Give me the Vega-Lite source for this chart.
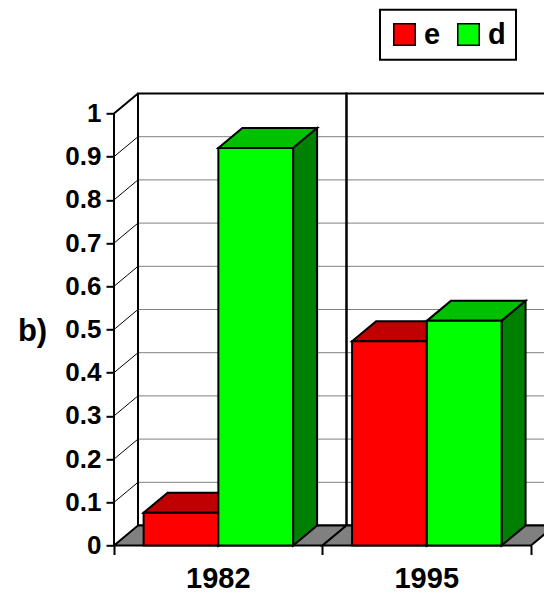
{
  "$schema": "https://vega.github.io/schema/vega-lite/v6.json",
  "width": 430,
  "height": 486,
  "autosize": "none",
  "padding": {"left": 114, "top": 70.3, "right": 0, "bottom": 37.7},
  "background": "white",
  "config": {"view": {"stroke": null}, "font": "Liberation Sans"},
  "datasets": {
    "bars": [
      {"year": "1982", "series": "e", "value": 0.076},
      {"year": "1982", "series": "d", "value": 0.92},
      {"year": "1995", "series": "e", "value": 0.473},
      {"year": "1995", "series": "d", "value": 0.52}
    ],
    "levels": [
      {"v": 0.1}, {"v": 0.2}, {"v": 0.3}, {"v": 0.4}, {"v": 0.5},
      {"v": 0.6}, {"v": 0.7}, {"v": 0.8}, {"v": 0.9}, {"v": 1}
    ]
  },
  "data": {"name": "bars"},
  "transform": [
    {"window": [{"op": "dense_rank", "as": "yi"}], "sort": [{"field": "year"}]},
    {"window": [{"op": "dense_rank", "as": "si"}], "groupby": ["year"], "sort": [{"field": "series", "order": "descending"}]},
    {"calculate": "datum.yi - 1 + 0.142 + (datum.si - 1) * 0.3585", "as": "x0"},
    {"calculate": "datum.x0 + 0.3585", "as": "x1"}
  ],
  "resolve": {"scale": {"fill": "independent"}},
  "layer": [
    {
      "data": {"name": "levels"},
      "transform": [{"calculate": "datum.v + 0.0463", "as": "vb"}],
      "mark": {"type": "rule", "color": "#808080", "strokeWidth": 1, "clip": true},
      "encoding": {
        "x": {"datum": 0.1151, "type": "quantitative", "scale": {"domain": [0, 2.0624], "nice": false, "zero": false}},
        "x2": {"datum": 2.3},
        "y": {"field": "vb", "type": "quantitative", "scale": {"domain": [-0.025, 1.1], "nice": false, "zero": false}}
      }
    },
    {
      "data": {"name": "levels"},
      "transform": [{"calculate": "datum.v + 0.0463", "as": "vb"}],
      "mark": {"type": "rule", "color": "black"},
      "encoding": {
        "x": {"datum": 0, "type": "quantitative", "scale": {"domain": [0, 2.0624], "nice": false, "zero": false}},
        "x2": {"datum": 0.1151},
        "y": {"field": "v", "type": "quantitative", "scale": {"domain": [-0.025, 1.1], "nice": false, "zero": false}},
        "y2": {"field": "vb"},
        "strokeWidth": {"condition": {"test": "datum.v == 1", "value": 2}, "value": 1}
      }
    },
    {
      "transform": [
        {"filter": "datum.si == 1"},
        {"calculate": "datum.yi - 1 + 0.1151", "as": "wx0"},
        {"calculate": "datum.yi + 0.1151", "as": "wx1"}
      ],
      "mark": {"type": "rect", "filled": false, "stroke": "black", "strokeWidth": 2, "clip": true},
      "encoding": {
        "x": {"field": "wx0", "type": "quantitative", "scale": {"domain": [0, 2.0624], "nice": false, "zero": false}},
        "x2": {"field": "wx1"},
        "y": {"datum": 0.0463, "type": "quantitative", "scale": {"domain": [-0.025, 1.1], "nice": false, "zero": false}},
        "y2": {"datum": 1.0463}
      }
    },
    {
      "transform": [
        {"filter": "datum.si == 1"},
        {"calculate": "0", "as": "t0"},
        {"calculate": "1", "as": "t1"},
        {"fold": ["t0", "t1"], "as": ["k", "t"]},
        {"calculate": "datum.t * 0.0463", "as": "fy"},
        {"calculate": "datum.yi - 1 + datum.t * 0.1151", "as": "fx0"},
        {"calculate": "datum.yi + datum.t * 0.1151", "as": "fx1"}
      ],
      "mark": {"type": "area", "orient": "horizontal", "fill": "#808080", "stroke": "black", "strokeWidth": 2, "strokeJoin": "miter", "clip": true},
      "encoding": {
        "y": {"field": "fy", "type": "quantitative", "stack": null, "scale": {"domain": [-0.025, 1.1], "nice": false, "zero": false}},
        "x": {"field": "fx0", "type": "quantitative", "stack": null, "scale": {"domain": [0, 2.0624], "nice": false, "zero": false}},
        "x2": {"field": "fx1"},
        "detail": {"field": "year"}
      }
    },
    {
      "mark": {"type": "rule", "color": "black", "strokeWidth": 2},
      "encoding": {
        "x": {"datum": 0, "type": "quantitative", "scale": {"domain": [0, 2.0624], "nice": false, "zero": false}},
        "y": {"datum": 0, "type": "quantitative", "scale": {"domain": [-0.025, 1.1], "nice": false, "zero": false}},
        "y2": {"datum": 1}
      }
    },
    {
      "transform": [
        {"calculate": "0", "as": "t0"},
        {"calculate": "1", "as": "t1"},
        {"fold": ["t0", "t1"], "as": ["k", "t"]},
        {"calculate": "datum.value + datum.t * 0.0463", "as": "ty"},
        {"calculate": "datum.x0 + datum.t * 0.1151", "as": "tx0"},
        {"calculate": "datum.x1 + datum.t * 0.1151", "as": "tx1"}
      ],
      "mark": {"type": "area", "orient": "horizontal", "stroke": "black", "strokeWidth": 2, "strokeJoin": "miter"},
      "encoding": {
        "y": {"field": "ty", "type": "quantitative", "stack": null, "scale": {"domain": [-0.025, 1.1], "nice": false, "zero": false}},
        "x": {"field": "tx0", "type": "quantitative", "stack": null, "scale": {"domain": [0, 2.0624], "nice": false, "zero": false}},
        "x2": {"field": "tx1"},
        "detail": [{"field": "year"}, {"field": "series"}],
        "fill": {"field": "series", "type": "nominal", "scale": {"domain": ["e", "d"], "range": ["#c00000", "#00c000"]}, "legend": null}
      }
    },
    {
      "transform": [
        {"calculate": "0", "as": "t0"},
        {"calculate": "1", "as": "t1"},
        {"fold": ["t0", "t1"], "as": ["k", "t"]},
        {"calculate": "datum.x1 + datum.t * 0.1151", "as": "sx"},
        {"calculate": "datum.value + datum.t * 0.0463", "as": "sy"},
        {"calculate": "datum.t * 0.0463", "as": "sy0"}
      ],
      "mark": {"type": "area", "orient": "vertical", "stroke": "black", "strokeWidth": 2, "strokeJoin": "miter"},
      "encoding": {
        "x": {"field": "sx", "type": "quantitative", "stack": null, "scale": {"domain": [0, 2.0624], "nice": false, "zero": false}},
        "y": {"field": "sy", "type": "quantitative", "stack": null, "scale": {"domain": [-0.025, 1.1], "nice": false, "zero": false}},
        "y2": {"field": "sy0"},
        "detail": [{"field": "year"}, {"field": "series"}],
        "fill": {"field": "series", "type": "nominal", "scale": {"domain": ["e", "d"], "range": ["#800000", "#008000"]}, "legend": null}
      }
    },
    {
      "mark": {"type": "rect", "stroke": "black", "strokeWidth": 2, "strokeJoin": "miter"},
      "encoding": {
        "x": {
          "field": "x0", "type": "quantitative",
          "scale": {"domain": [0, 2.0624], "nice": false, "zero": false},
          "axis": {"values": [0, 1, 2], "labels": false, "domain": false, "grid": false, "title": null, "ticks": true, "tickColor": "black", "tickWidth": 2, "tickSize": 9, "offset": -10.8}
        },
        "x2": {"field": "x1"},
        "y": {
          "field": "value", "type": "quantitative",
          "scale": {"domain": [-0.025, 1.1], "nice": false, "zero": false},
          "axis": {
            "values": [0, 0.1, 0.2, 0.3, 0.4, 0.5, 0.6, 0.7, 0.8, 0.9, 1],
            "format": ".1~f", "domain": false, "grid": false,
            "tickColor": "black", "tickWidth": 2, "tickSize": 8,
            "labelFont": "Liberation Sans", "labelFontWeight": "bold", "labelFontSize": 26, "labelColor": "black", "labelPadding": 5, "labelOverlap": false,
            "title": "b)", "titleAngle": 0, "titleX": -82, "titleY": 269.7, "titleAlign": "center", "titleBaseline": "alphabetic",
            "titleFont": "Liberation Sans", "titleFontSize": 31, "titleFontWeight": "bold", "titleColor": "black"
          }
        },
        "y2": {"datum": 0},
        "color": {
          "field": "series", "type": "nominal",
          "scale": {"domain": ["e", "d"], "range": ["#ff0000", "#00ff00"]},
          "legend": {
            "orient": "none", "legendX": 266, "legendY": -60.5, "direction": "horizontal", "title": null,
            "symbolType": "square", "symbolSize": 460, "symbolStrokeColor": "black", "symbolStrokeWidth": 1.5, "symbolOpacity": 1,
            "labelFont": "Liberation Sans", "labelFontWeight": "bold", "labelFontSize": 29, "labelColor": "black", "labelOffset": 5,
            "columnPadding": 13, "padding": 10, "strokeColor": "black",
            "encode": {"legend": {"update": {"strokeWidth": {"value": 2}}}}
          }
        }
      }
    },
    {
      "transform": [
        {"filter": "datum.si == 1"},
        {"calculate": "datum.yi - 0.5", "as": "lx"}
      ],
      "mark": {"type": "text", "font": "Liberation Sans", "fontWeight": "bold", "fontSize": 29, "color": "black", "align": "center", "baseline": "alphabetic", "dy": 42.8},
      "encoding": {
        "x": {"field": "lx", "type": "quantitative", "scale": {"domain": [0, 2.0624], "nice": false, "zero": false}},
        "y": {"datum": 0, "type": "quantitative", "scale": {"domain": [-0.025, 1.1], "nice": false, "zero": false}},
        "text": {"field": "year"}
      }
    }
  ]
}
